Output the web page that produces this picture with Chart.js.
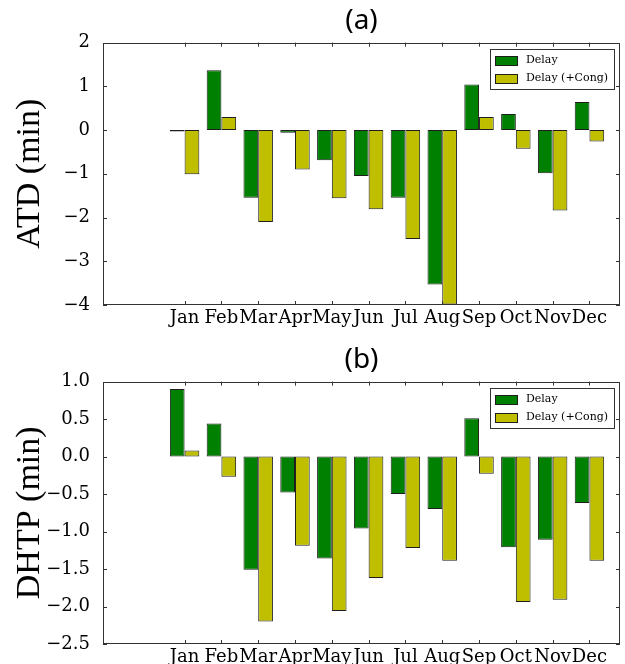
<!DOCTYPE html>
<html>
<head>
<meta charset="utf-8">
<script src="https://cdn.jsdelivr.net/npm/chart.js@4.4.1/dist/chart.umd.min.js"></script>
<style>
    html, body { margin: 0; padding: 0; background: #fff; overflow: hidden; }
    body { width: 625px; height: 664px; position: relative; }
    canvas { position: absolute; left: 0; }
    #chartA { top: 0; }
    #chartB { top: 339px; }
</style>
</head>
<body>
<canvas id="chartA" width="625" height="332"></canvas>
<canvas id="chartB" width="625" height="332"></canvas>
<script>
// Data
const months = ['Jan', 'Feb', 'Mar', 'Apr', 'May', 'Jun', 'Jul', 'Aug', 'Sep', 'Oct', 'Nov', 'Dec'];
const seriesNames = ['Delay', 'Delay (+Cong)'];

const atdDelay = [-0.03, 1.37, -1.55, -0.06, -0.69, -1.05, -1.55, -3.53, 1.04, 0.37, -0.99, 0.64];
const atdCong = [-1.01, 0.30, -2.10, -0.90, -1.56, -1.81, -2.49, -3.99, 0.30, -0.43, -1.84, -0.26];
const atdTicks = [-4, -3, -2, -1, 0, 1, 2];

const dhtpDelay = [0.90, 0.44, -1.51, -0.48, -1.36, -0.96, -0.50, -0.70, 0.51, -1.21, -1.11, -0.62];
const dhtpCong = [0.08, -0.27, -2.20, -1.19, -2.06, -1.62, -1.22, -1.39, -0.23, -1.94, -1.91, -1.39];
const dhtpTicks = [-2.5, -2.0, -1.5, -1.0, -0.5, 0.0, 0.5, 1.0];

const GREEN = '#008000';
const YELLOW = '#bfbf00';
const EDGE = '#1e1e1e';

Chart.defaults.font.family = '"DejaVu Serif", serif';
Chart.defaults.font.size = 18;
Chart.defaults.color = '#000';

// Frame round the plot area, with matplotlib style inward ticks on all sides
const frameTicks = {
    id: 'frameTicks',
    afterDatasetsDraw(chart) {
        const { ctx, chartArea: a, scales: { x, y } } = chart;
        ctx.save();
        ctx.strokeStyle = '#333';
        ctx.lineWidth = 1;
        ctx.beginPath();
        x.ticks.forEach(function (t) {
            const px = Math.round(x.getPixelForValue(t.value)) + 0.5;
            ctx.moveTo(px, a.top); ctx.lineTo(px, a.top + 4);
            ctx.moveTo(px, a.bottom); ctx.lineTo(px, a.bottom - 4);
        });
        y.ticks.forEach(function (t) {
            const py = Math.round(y.getPixelForValue(t.value)) + 0.5;
            ctx.moveTo(a.left, py); ctx.lineTo(a.left + 4, py);
            ctx.moveTo(a.right, py); ctx.lineTo(a.right - 4, py);
        });
        ctx.stroke();
        ctx.strokeRect(Math.round(a.left) + 0.5, Math.round(a.top) + 0.5,
            Math.round(a.width) - 1, Math.round(a.height) - 1);
        ctx.restore();
    }
};

// Boxed legend in the upper right corner of the plot
const boxLegend = {
    id: 'boxLegend',
    afterDraw(chart) {
        const { ctx, chartArea: a } = chart;
        const sets = chart.data.datasets;
        ctx.save();
        ctx.font = '11px "DejaVu Serif"';
        const textW = Math.max.apply(null, sets.map(d => ctx.measureText(d.label).width));
        const w = Math.round(36 + textW + 6), h = 40;
        const left = Math.round(a.right - 6 - w), top = Math.round(a.top + 6);
        ctx.fillStyle = '#fff';
        ctx.fillRect(left, top, w, h);
        ctx.strokeStyle = '#333';
        ctx.lineWidth = 1;
        ctx.strokeRect(left + 0.5, top + 0.5, w, h);
        sets.forEach(function (d, i) {
            const cy = Math.round(top + 11 + i * 17.5);
            ctx.fillStyle = d.backgroundColor;
            ctx.fillRect(left + 5, cy - 4, 22, 9);
            ctx.strokeStyle = EDGE;
            ctx.strokeRect(left + 5.5, cy - 3.5, 22, 9);
            ctx.fillStyle = '#000';
            ctx.textBaseline = 'middle';
            ctx.fillText(d.label, left + 36, cy);
        });
        ctx.restore();
    }
};

function fmt(v, decimals) {
    const s = Math.abs(v).toFixed(decimals);
    return v < 0 ? '\u2212' + s : s;
}

function toPoints(values) {
    return values.map((v, i) => ({ x: i, y: v }));
}

function makeChart(id, title, yTitle, delay, cong, yTicks, decimals) {
    const ctx = document.getElementById(id).getContext('2d');
    return new Chart(ctx, {
        type: 'bar',
        data: {
            datasets: [{
                label: seriesNames[0],
                data: toPoints(delay),
                backgroundColor: GREEN,
                borderColor: EDGE,
                borderWidth: 1,
                borderSkipped: false
            }, {
                label: seriesNames[1],
                data: toPoints(cong),
                backgroundColor: YELLOW,
                borderColor: EDGE,
                borderWidth: 1,
                borderSkipped: false
            }]
        },
        options: {
            responsive: false,
            animation: false,
            categoryPercentage: 0.8,
            barPercentage: 1.0,
            layout: { padding: { left: 0, right: 5, top: 0, bottom: 0 } },
            plugins: {
                legend: { display: false },
                tooltip: { enabled: false },
                title: {
                    display: true,
                    text: title,
                    fullSize: false,
                    font: { family: '"Noto Sans", sans-serif', size: 28, weight: 'normal' },
                    padding: { top: 4, bottom: 5 }
                }
            },
            scales: {
                x: {
                    type: 'linear',
                    offset: false,
                    min: -2.217,
                    max: 11.83,
                    grid: { display: false },
                    border: { display: false },
                    afterBuildTicks: function (axis) {
                        axis.ticks = months.map((m, i) => ({ value: i }));
                    },
                    afterFit: function (axis) { axis.height = 27; },
                    ticks: {
                        autoSkip: false,
                        maxRotation: 0,
                        padding: -5,
                        callback: v => months[v]
                    }
                },
                y: {
                    min: yTicks[0],
                    max: yTicks[yTicks.length - 1],
                    grid: { display: false },
                    border: { display: false },
                    afterBuildTicks: function (axis) {
                        axis.ticks = yTicks.map(v => ({ value: v }));
                    },
                    afterFit: function (axis) { axis.width = 103; },
                    ticks: {
                        padding: 5,
                        callback: v => fmt(v, decimals)
                    },
                    title: {
                        display: true,
                        text: yTitle,
                        font: { family: '"Liberation Serif", serif', size: 34 },
                        padding: { top: 10, bottom: 0 }
                    }
                }
            }
        },
        plugins: [frameTicks, boxLegend]
    });
}

makeChart('chartA', '(a)', 'ATD (min)', atdDelay, atdCong, atdTicks, 0);
makeChart('chartB', '(b)', 'DHTP (min)', dhtpDelay, dhtpCong, dhtpTicks, 1);
</script>
</body>
</html>
